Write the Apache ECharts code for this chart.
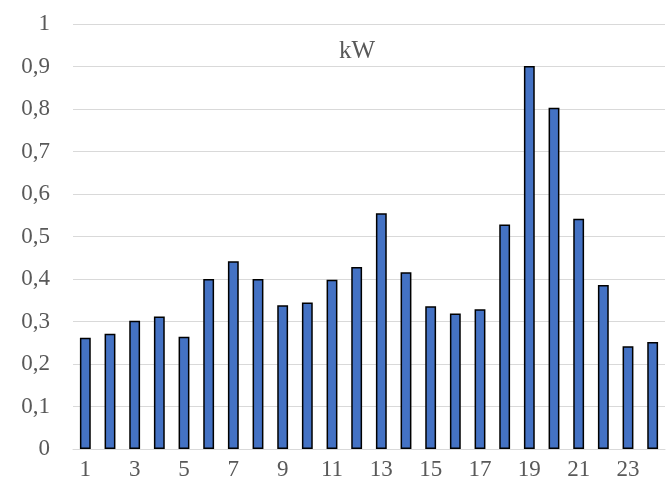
<!DOCTYPE html>
<html><head><meta charset="utf-8">
<script src="https://cdn.jsdelivr.net/npm/echarts@6/dist/echarts.min.js"></script>
<style>html,body{margin:0;padding:0;background:#fff}#c{width:671px;height:491px}</style>
</head><body><div id="c"></div>
<script>
var categories = ['1','2','3','4','5','6','7','8','9','10','11','12','13','14','15','16','17','18','19','20','21','22','23','24'];
var values = [0.262,0.271,0.302,0.312,0.264,0.40,0.442,0.40,0.338,0.345,0.398,0.428,0.555,0.416,0.336,0.319,0.329,0.528,0.901,0.803,0.542,0.386,0.242,0.252];
var titleText = 'kW';
var chart = echarts.init(document.getElementById('c'), null, {renderer:'canvas'});
var font = '"Liberation Serif","Times New Roman",serif';
chart.setOption({
  animation:false,
  backgroundColor:'#fff',
  title:{text:titleText,left:352,top:34,textAlign:'center',textStyle:{fontFamily:font,fontSize:25,fontWeight:'normal',color:'#595959'}},
  grid:{left:73,right:6,top:24,bottom:42,containLabel:false},
  xAxis:{type:'category',data:categories,
    axisLine:{lineStyle:{color:'#d9d9d9',width:1}},axisTick:{show:false},
    axisLabel:{interval:1,margin:9,fontFamily:font,fontSize:23,color:'#595959'}},
  yAxis:{type:'value',min:0,max:1,interval:0.1,
    axisLine:{show:false},axisTick:{show:false},
    splitLine:{lineStyle:{color:'#d9d9d9',width:1}},
    axisLabel:{margin:23,fontFamily:font,fontSize:23,color:'#595959',
      formatter:function(v){return String(Math.round(v*10)/10).replace('.',',');}}},
  series:[{type:'bar',data:values,barWidth:'44%',
    itemStyle:{color:'#4472c4',borderColor:'#000',borderWidth:1.5}}]
});
</script></body></html>
